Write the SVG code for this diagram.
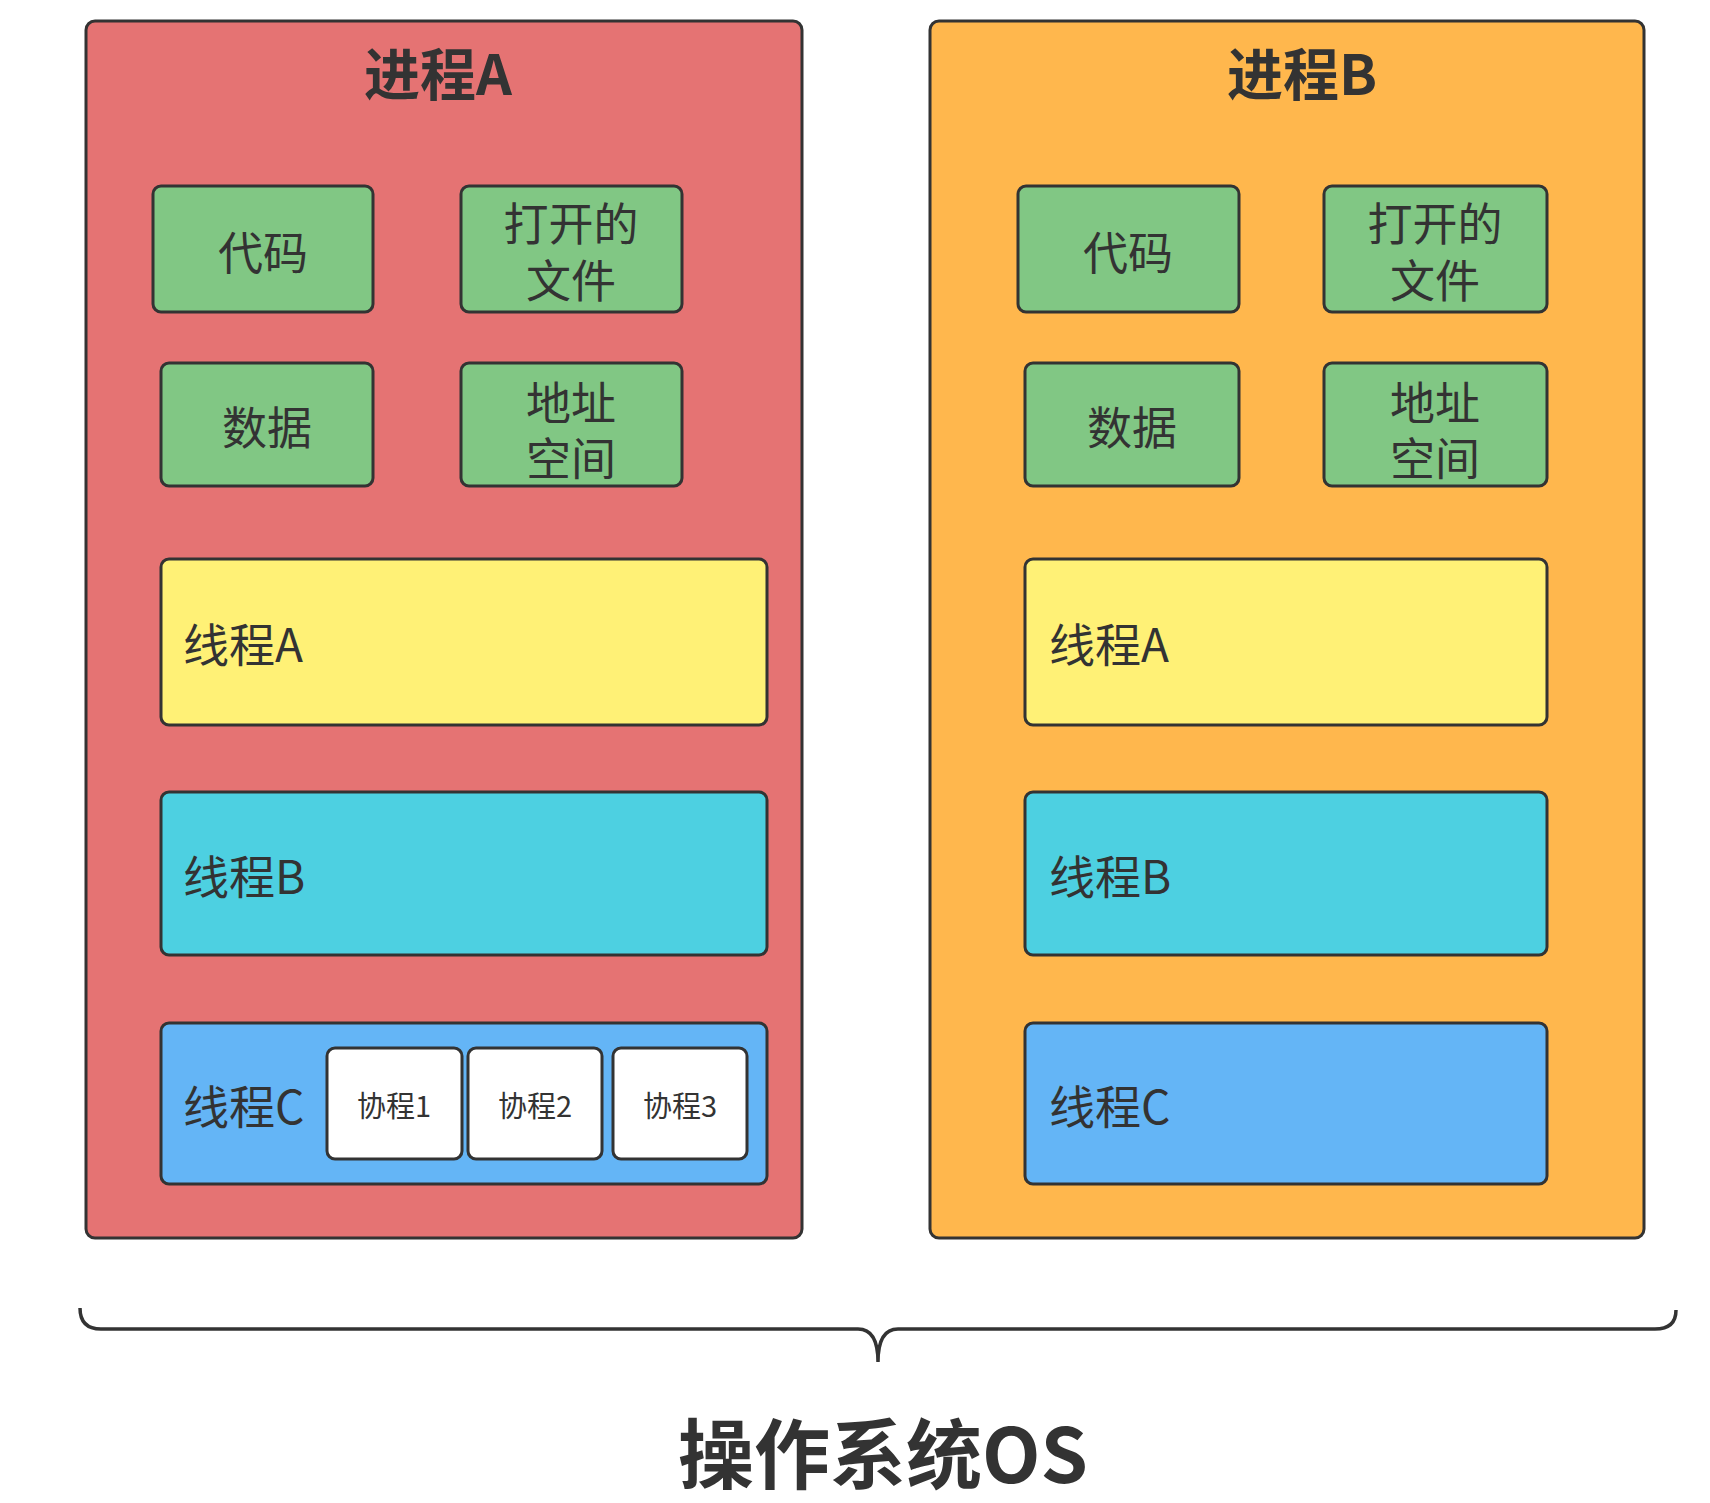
<svg xmlns="http://www.w3.org/2000/svg" width="1710" height="1503" viewBox="0 0 1710 1503">
<style>
.box{stroke:#333;stroke-width:3}
.proc-a{fill:#E57373}
.proc-b{fill:#FFB74D}
.green{fill:#81C784}
.yellow{fill:#FFF176}
.cyan{fill:#4DD0E1}
.blue{fill:#64B5F6}
.white{fill:#FFFFFF}
text{font-family:"Noto Sans CJK SC","Noto Sans",sans-serif;fill:#333;dominant-baseline:central}
.title{font-size:56px;font-weight:bold;text-anchor:middle}
.lbl{font-size:45px;text-anchor:middle}
.thr{font-size:46px}
.co{font-size:29px;text-anchor:middle}
.os{font-size:76px;font-weight:bold;text-anchor:middle}
</style>
<rect width="1710" height="1503" fill="#FFFFFF"/>

<g id="processA">
<rect class="box proc-a" x="86" y="21" width="716" height="1217" rx="9"/>
<text class="title" x="438" y="70">进程A</text>
</g>
<g id="A-code"><rect class="box green" x="153" y="186" width="220" height="126" rx="8"/><text class="lbl" x="263" y="250">代码</text></g>
<g id="A-files"><rect class="box green" x="461" y="186" width="221" height="126" rx="8"/><text class="lbl" x="571" y="221">打开的<tspan x="571" dy="57">文件</tspan></text></g>
<g id="A-data"><rect class="box green" x="161" y="363" width="212" height="123" rx="8"/><text class="lbl" x="267" y="425">数据</text></g>
<g id="A-addr"><rect class="box green" x="461" y="363" width="221" height="123" rx="8"/><text class="lbl" x="571" y="400">地址<tspan x="571" dy="56">空间</tspan></text></g>
<g id="A-threadA"><rect class="box yellow" x="161" y="559" width="606" height="166" rx="8"/><text class="thr" x="183" y="642">线程A</text></g>
<g id="A-threadB"><rect class="box cyan" x="161" y="792" width="606" height="163" rx="8"/><text class="thr" x="183" y="874">线程B</text></g>
<g id="A-threadC"><rect class="box blue" x="161" y="1023" width="606" height="161" rx="8"/><text class="thr" x="183" y="1104">线程C</text></g>
<g id="A-co1"><rect class="box white" x="327" y="1048" width="135" height="111" rx="8"/><text class="co" x="394" y="1104">协程1</text></g>
<g id="A-co2"><rect class="box white" x="468" y="1048" width="134" height="111" rx="8"/><text class="co" x="535" y="1104">协程2</text></g>
<g id="A-co3"><rect class="box white" x="613" y="1048" width="134" height="111" rx="8"/><text class="co" x="680" y="1104">协程3</text></g>

<g id="processB">
<rect class="box proc-b" x="930" y="21" width="714" height="1217" rx="9"/>
<text class="title" x="1302" y="70">进程B</text>
</g>
<g id="B-code"><rect class="box green" x="1018" y="186" width="221" height="126" rx="8"/><text class="lbl" x="1128" y="250">代码</text></g>
<g id="B-files"><rect class="box green" x="1324" y="186" width="223" height="126" rx="8"/><text class="lbl" x="1435" y="221">打开的<tspan x="1435" dy="57">文件</tspan></text></g>
<g id="B-data"><rect class="box green" x="1025" y="363" width="214" height="123" rx="8"/><text class="lbl" x="1132" y="425">数据</text></g>
<g id="B-addr"><rect class="box green" x="1324" y="363" width="223" height="123" rx="8"/><text class="lbl" x="1435" y="400">地址<tspan x="1435" dy="56">空间</tspan></text></g>
<g id="B-threadA"><rect class="box yellow" x="1025" y="559" width="522" height="166" rx="8"/><text class="thr" x="1049" y="642">线程A</text></g>
<g id="B-threadB"><rect class="box cyan" x="1025" y="792" width="522" height="163" rx="8"/><text class="thr" x="1049" y="874">线程B</text></g>
<g id="B-threadC"><rect class="box blue" x="1025" y="1023" width="522" height="161" rx="8"/><text class="thr" x="1049" y="1104">线程C</text></g>

<g id="connectors">
<path d="M80 1308 Q80 1329 101 1329 L858 1329 Q878 1329 878 1362 Q878 1329 898 1329 L1655 1329 Q1676 1329 1676 1310" fill="none" stroke="#333" stroke-width="3.5"/>
</g>

<g id="os-label"><text class="os" x="883" y="1450">操作系统OS</text></g>
</svg>
